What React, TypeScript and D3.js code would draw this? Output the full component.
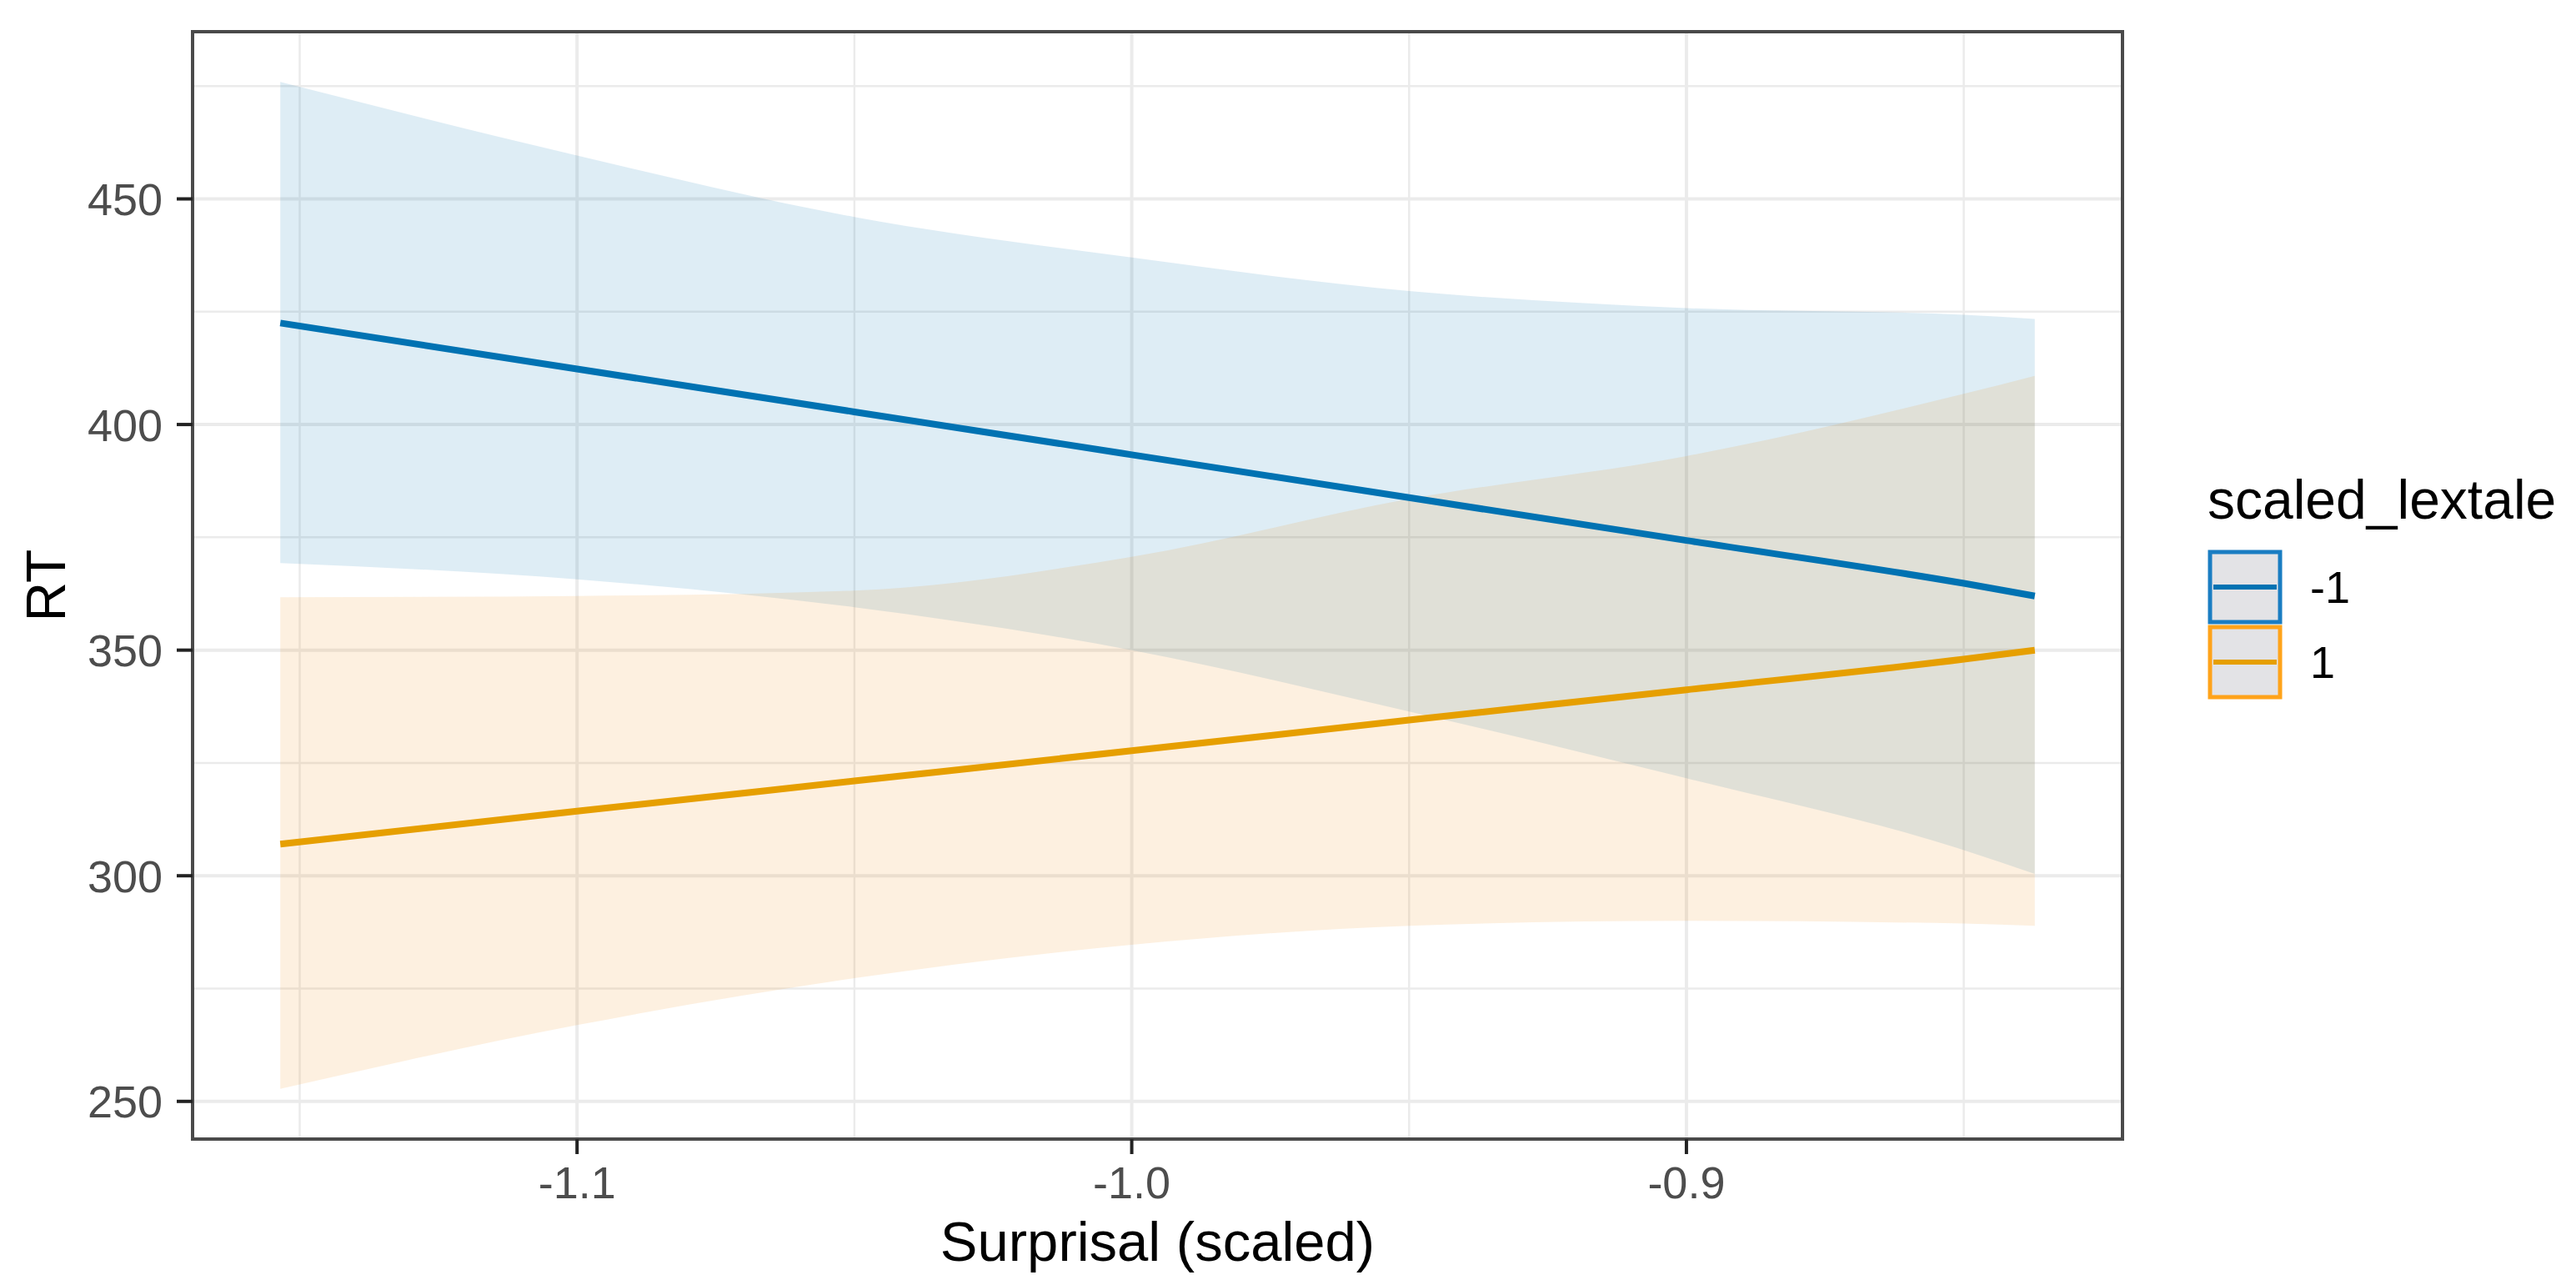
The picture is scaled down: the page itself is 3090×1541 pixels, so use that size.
import React from "react";
import * as d3 from "d3";

// ---- data ----
const surprisal = [-1.1535, -1.1, -1.05, -1.0, -0.95, -0.9, -0.85, -0.8372];
const groups = ["-1", "1"];
const fitNeg = [422.5, 412.3, 402.8, 393.3, 383.8, 374.3, 364.8, 362.0];
const lowerNeg = [369.3, 365.7, 359.5, 350.0, 336.4, 321.6, 305.7, 300.4];
const upperNeg = [475.9, 459.6, 446.0, 437.0, 429.6, 425.8, 424.3, 423.4];
const fitPos = [307.0, 314.3, 321.0, 327.7, 334.5, 341.2, 348.0, 350.0];
const lowerPos = [252.8, 266.9, 277.3, 284.7, 288.9, 290.0, 289.4, 288.9];
const upperPos = [361.7, 362.0, 363.2, 370.7, 383.5, 393.0, 406.8, 410.8];
const xMajor = [-1.1, -1.0, -0.9];
const xTickLabels = ["-1.1", "-1.0", "-0.9"];
const xMinor = [-1.15, -1.05, -0.95, -0.85];
const yMajor = [250, 300, 350, 400, 450];
const yMinor = [275, 325, 375, 425, 475];
const lineColors = ["#0072B2", "#E69F00"];
const bandColors = ["#0072B2", "#F08C10"];
const keyBorderColors = ["#1A7DC2", "#FFA31A"];

const W = 3090;
const H = 1541;
const P = { left: 231, right: 2546, top: 38, bottom: 1366 };
const FONT = "'Liberation Sans', Arial, Helvetica, sans-serif";

export default function App() {
  const xExt = d3.extent(surprisal) as [number, number];
  const xPad = (xExt[1] - xExt[0]) * 0.05;
  const allY = [...lowerNeg, ...upperNeg, ...lowerPos, ...upperPos];
  const yExt = d3.extent(allY) as [number, number];
  const yPad = (yExt[1] - yExt[0]) * 0.05;

  const x = d3.scaleLinear().domain([xExt[0] - xPad, xExt[1] + xPad]).range([P.left, P.right]);
  const y = d3.scaleLinear().domain([yExt[0] - yPad, yExt[1] + yPad]).range([P.bottom, P.top]);

  const series = [
    { key: groups[0], fit: fitNeg, lo: lowerNeg, hi: upperNeg, i: 0 },
    { key: groups[1], fit: fitPos, lo: lowerPos, hi: upperPos, i: 1 },
  ];

  const area = (lo: number[], hi: number[]) =>
    d3
      .area<number>()
      .x((d) => x(d))
      .y0((_, i) => y(lo[i]))
      .y1((_, i) => y(hi[i]))
      .curve(d3.curveMonotoneX)(surprisal) as string;

  const line = (v: number[]) =>
    d3
      .line<number>()
      .x((d) => x(d))
      .y((_, i) => y(v[i]))
      .curve(d3.curveMonotoneX)(surprisal) as string;

  const keyX = 2651;
  const keyW = 84;
  const keyTops = [662, 752];

  return (
    <svg
      width={W}
      height={H}
      style={{ position: "absolute", left: 0, top: 0, display: "block", background: "#fff" }}
      fontFamily={FONT}
    >
      <rect x={0} y={0} width={W} height={H} fill="#fff" />
      {/* grid */}
      <g>
        {xMinor.map((v) => (
          <line key={"xm" + v} x1={x(v)} x2={x(v)} y1={P.top} y2={P.bottom} stroke="#ebebeb" strokeWidth={2.5} />
        ))}
        {yMinor.map((v) => (
          <line key={"ym" + v} x1={P.left} x2={P.right} y1={y(v)} y2={y(v)} stroke="#ebebeb" strokeWidth={2.5} />
        ))}
        {xMajor.map((v) => (
          <line key={"xM" + v} x1={x(v)} x2={x(v)} y1={P.top} y2={P.bottom} stroke="#ebebeb" strokeWidth={4} />
        ))}
        {yMajor.map((v) => (
          <line key={"yM" + v} x1={P.left} x2={P.right} y1={y(v)} y2={y(v)} stroke="#ebebeb" strokeWidth={4} />
        ))}
      </g>
      {/* ribbons */}
      {series.map((s) => (
        <path key={"r" + s.key} d={area(s.lo, s.hi)} fill={bandColors[s.i]} fillOpacity={0.13} />
      ))}
      {/* fitted lines */}
      {series.map((s) => (
        <path key={"l" + s.key} d={line(s.fit)} fill="none" stroke={lineColors[s.i]} strokeWidth={8} />
      ))}
      {/* panel border */}
      <rect
        x={P.left}
        y={P.top}
        width={P.right - P.left}
        height={P.bottom - P.top}
        fill="none"
        stroke="#4a4a4a"
        strokeWidth={4}
      />
      {/* y axis */}
      {yMajor.map((v) => (
        <g key={"yt" + v}>
          <line x1={P.left - 19} x2={P.left} y1={y(v)} y2={y(v)} stroke="#222" strokeWidth={4} />
          <text x={195} y={y(v)} dy="0.36em" textAnchor="end" fontSize={54} fill="#4d4d4d">
            {v}
          </text>
        </g>
      ))}
      {/* x axis */}
      {xMajor.map((v, i) => (
        <g key={"xt" + v}>
          <line x1={x(v)} x2={x(v)} y1={P.bottom} y2={P.bottom + 18} stroke="#222" strokeWidth={4} />
          <text x={x(v)} y={1437} textAnchor="middle" fontSize={54} fill="#4d4d4d">
            {xTickLabels[i]}
          </text>
        </g>
      ))}
      <text x={(P.left + P.right) / 2} y={1512} textAnchor="middle" fontSize={67} fill="#000">
        Surprisal (scaled)
      </text>
      <text
        transform={`translate(78, ${(P.top + P.bottom) / 2}) rotate(-90)`}
        textAnchor="middle"
        fontSize={66}
        fill="#000"
      >
        RT
      </text>
      {/* legend */}
      <text x={2648} y={622} fontSize={66} fill="#000">
        scaled_lextale
      </text>
      {series.map((s, i) => (
        <g key={"lg" + s.key}>
          <rect
            x={keyX}
            y={keyTops[i]}
            width={keyW}
            height={keyW}
            fill="#e3e3e6"
            stroke={keyBorderColors[s.i]}
            strokeWidth={5}
          />
          <line
            x1={keyX + 4}
            x2={keyX + keyW - 4}
            y1={keyTops[i] + keyW / 2}
            y2={keyTops[i] + keyW / 2}
            stroke={lineColors[s.i]}
            strokeWidth={6}
          />
          <text x={2771} y={keyTops[i] + keyW / 2} dy="0.36em" fontSize={54} fill="#000">
            {s.key}
          </text>
        </g>
      ))}
    </svg>
  );
}
